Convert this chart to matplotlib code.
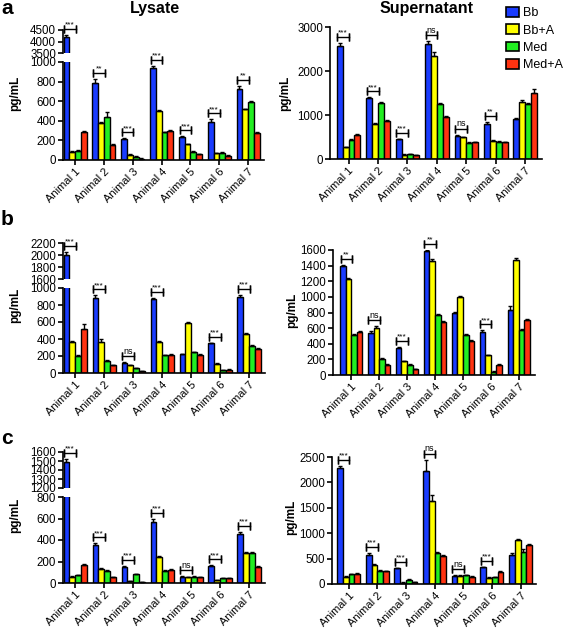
import numpy as np
import matplotlib
matplotlib.use('Agg')
import matplotlib.pyplot as plt
from matplotlib.transforms import offset_copy
from matplotlib.patches import Patch

plt.rcParams['font.family'] = ['Liberation Sans', 'DejaVu Sans']

animals = ['Animal 1', 'Animal 2', 'Animal 3', 'Animal 4', 'Animal 5', 'Animal 6', 'Animal 7']
groups = ['Bb', 'Bb+A', 'Med', 'Med+A']
colors = ['#1a3cff', '#ffff00', '#22ee22', '#ff3311']

# ---- panel a: Lysate ----
a_lys_bb   = [4180, 785, 215, 939, 232, 389, 723]
a_lys_bba  = [85, 375, 51, 502, 160, 68, 519]
a_lys_med  = [92, 437, 31, 283, 85, 72, 587]
a_lys_meda = [283, 154, 14, 300, 61, 41, 273]
a_lys_err_bb   = [100, 40, 5, 25, 8, 25, 30]
a_lys_err_bba  = [5, 15, 8, 10, 5, 5, 5]
a_lys_err_med  = [10, 50, 5, 5, 5, 5, 12]
a_lys_err_meda = [10, 5, 3, 10, 5, 5, 10]
a_lys_sig = ['***', '**', '***', '***', '***', '***', '**']

# ---- panel a: Supernatant ----
a_sup_bb   = [2570, 1379, 452, 2622, 527, 791, 904]
a_sup_bba  = [264, 799, 98, 2336, 490, 414, 1304]
a_sup_med  = [437, 1266, 105, 1243, 362, 384, 1251]
a_sup_meda = [550, 859, 83, 965, 377, 384, 1507]
a_sup_err_bb   = [60, 20, 10, 50, 20, 60, 20]
a_sup_err_bba  = [20, 30, 10, 100, 20, 20, 30]
a_sup_err_med  = [15, 20, 10, 20, 15, 15, 30]
a_sup_err_meda = [15, 20, 10, 20, 15, 10, 80]
a_sup_sig = ['***', '***', '***', 'ns', 'ns', '**', '']

# ---- panel b: Lysate ----
b_lys_bb   = [1994, 882, 118, 870, 224, 353, 890]
b_lys_bba  = [365, 365, 90, 365, 588, 110, 463]
b_lys_med  = [204, 145, 55, 208, 243, 31, 322]
b_lys_meda = [522, 90, 20, 212, 212, 39, 282]
b_lys_err_bb   = [60, 30, 8, 15, 5, 5, 30]
b_lys_err_bba  = [8, 30, 8, 8, 10, 8, 10]
b_lys_err_med  = [8, 8, 8, 8, 8, 4, 8]
b_lys_err_meda = [50, 8, 4, 8, 8, 8, 8]
b_lys_sig = ['***', '***', 'ns', '***', '', '***', '***']

# ---- panel b: Supernatant ----
b_sup_bb   = [1395, 533, 341, 1591, 798, 555, 832]
b_sup_bba  = [1224, 597, 175, 1459, 994, 252, 1472]
b_sup_med  = [512, 205, 132, 768, 508, 43, 576]
b_sup_meda = [550, 128, 73, 683, 439, 132, 704]
b_sup_err_bb   = [15, 30, 15, 15, 10, 15, 50]
b_sup_err_bba  = [20, 30, 10, 25, 15, 10, 30]
b_sup_err_med  = [15, 10, 10, 15, 15, 8, 15]
b_sup_err_meda = [15, 10, 8, 10, 10, 10, 10]
b_sup_sig = ['**', 'ns', '***', '**', '', '***', '']

# ---- panel c: Lysate ----
c_lys_bb   = [1491, 353, 149, 570, 59, 155, 459]
c_lys_bba  = [53, 130, 16, 239, 53, 28, 279]
c_lys_med  = [71, 115, 81, 109, 56, 43, 282]
c_lys_meda = [167, 56, 9, 124, 53, 43, 149]
c_lys_err_bb   = [30, 15, 10, 25, 5, 8, 15]
c_lys_err_bba  = [8, 8, 4, 8, 5, 4, 8]
c_lys_err_med  = [8, 8, 5, 8, 5, 4, 8]
c_lys_err_meda = [8, 4, 3, 8, 5, 4, 8]
c_lys_sig = ['***', '***', '***', '***', 'ns', '***', '***']

# ---- panel c: Supernatant ----
c_sup_bb   = [2290, 569, 314, 2225, 164, 327, 569]
c_sup_bba  = [144, 366, 26, 1636, 164, 124, 864]
c_sup_med  = [190, 262, 79, 602, 177, 131, 622]
c_sup_meda = [196, 249, 33, 556, 144, 236, 766]
c_sup_err_bb   = [30, 40, 10, 225, 10, 15, 50]
c_sup_err_bba  = [15, 20, 5, 125, 10, 10, 15]
c_sup_err_med  = [15, 15, 10, 25, 10, 10, 60]
c_sup_err_meda = [15, 15, 5, 20, 10, 15, 20]
c_sup_sig = ['***', '***', '***', 'ns', 'ns', '***', '']

W, H = 567, 628
fig = plt.figure(figsize=(W / 100, H / 100), dpi=100)

SPINE_LW = 1.2
BAR_W = 0.2
TICK_FS = 8.3
XTICK_FS = 8.0


def rect(left, right, top, bottom):
    return [left / W, 1 - bottom / H, (right - left) / W, (bottom - top) / H]


def draw_bars(ax, vals, errs):
    x = np.arange(len(animals))
    for k in range(4):
        e = np.asarray(errs[k], dtype=float)
        ax.bar(x + (k - 1.5) * BAR_W, vals[k], BAR_W, color=colors[k],
               edgecolor='black', linewidth=1.0,
               yerr=[np.zeros_like(e), e],
               error_kw=dict(ecolor='black', elinewidth=1.0, capsize=1.6, capthick=1.0))


def style(ax, xlim):
    ax.set_xlim(*xlim)
    for s in ['top', 'right']:
        ax.spines[s].set_visible(False)
    for s in ['left', 'bottom']:
        ax.spines[s].set_linewidth(SPINE_LW)
    ax.tick_params(axis='both', direction='out', length=3.5, width=SPINE_LW,
                   labelsize=TICK_FS, pad=1.5)
    ax.tick_params(axis='x', labelsize=XTICK_FS, pad=1.0)


def xlabels(ax):
    ax.set_xticks(np.arange(len(animals)))
    ax.set_xticklabels(animals, rotation=45, ha='right', rotation_mode='anchor')


def bracket(ax, i, top_val, label):
    if not label:
        return
    tr = offset_copy(ax.transData, fig=fig, x=0, y=6, units='dots')
    x0 = i - 2 * BAR_W + 0.02
    x1 = i + 0.02
    ax.plot([x0, x1], [top_val, top_val], color='black', lw=1.0, transform=tr, clip_on=False)
    for xx in (x0, x1):
        ax.plot([xx, xx], [top_val, top_val], color='black', lw=1.0, transform=tr,
                clip_on=False, marker='|', markersize=6, markeredgewidth=1.0)
    tr2 = offset_copy(ax.transData, fig=fig, x=0, y=6.5, units='dots')
    ax.text((x0 + x1) / 2, top_val, label, transform=tr2, ha='center', va='bottom',
            fontsize=6 if label != 'ns' else 6.5, clip_on=False)


def brackets(ax_for, vals, errs, sig):
    for i, s in enumerate(sig):
        top = max(vals[0][i] + errs[0][i], vals[1][i] + errs[1][i])
        bracket(ax_for(i), i, top, s)


def broken_panel(px, upper_px, lower_px, upper_lim, upper_ticks, lower_lim, lower_ticks,
                 vals, errs, sig, xlim):
    left, right = px
    ax_hi = fig.add_axes(rect(left, right, upper_px[0], upper_px[1]))
    ax_lo = fig.add_axes(rect(left, right, lower_px[0], lower_px[1]))
    for ax in (ax_hi, ax_lo):
        draw_bars(ax, vals, errs)
        style(ax, xlim)
    ax_hi.set_ylim(*upper_lim)
    ax_hi.set_yticks(upper_ticks)
    ax_hi.spines['bottom'].set_visible(False)
    ax_hi.tick_params(axis='x', bottom=False, labelbottom=False)
    ax_lo.set_ylim(*lower_lim)
    ax_lo.set_yticks(lower_ticks)
    xlabels(ax_lo)

    def pick(i):
        top = max(vals[0][i] + errs[0][i], vals[1][i] + errs[1][i])
        return ax_hi if top > lower_lim[1] else ax_lo
    brackets(pick, vals, errs, sig)
    return ax_hi, ax_lo


def simple_panel(px, ypx, ylim, yticks, vals, errs, sig, xlim):
    ax = fig.add_axes(rect(px[0], px[1], ypx[0], ypx[1]))
    draw_bars(ax, vals, errs)
    style(ax, xlim)
    ax.set_ylim(*ylim)
    ax.set_yticks(yticks)
    xlabels(ax)
    brackets(lambda i: ax, vals, errs, sig)
    return ax


LXL = (-0.42, 6.55)

# Row a
broken_panel((63, 264), (30, 53), (62, 160), (3500, 4500), [3500, 4000, 4500],
             (0, 1000), [0, 200, 400, 600, 800, 1000],
             [a_lys_bb, a_lys_bba, a_lys_med, a_lys_meda],
             [a_lys_err_bb, a_lys_err_bba, a_lys_err_med, a_lys_err_meda], a_lys_sig, LXL)
simple_panel((330, 542), (27, 159), (0, 3000), [0, 1000, 2000, 3000],
             [a_sup_bb, a_sup_bba, a_sup_med, a_sup_meda],
             [a_sup_err_bb, a_sup_err_bba, a_sup_err_med, a_sup_err_meda], a_sup_sig,
             (-0.63, 6.57))

# Row b
broken_panel((63, 265), (243, 279), (288, 373), (1600, 2200), [1600, 1800, 2000, 2200],
             (0, 1000), [0, 200, 400, 600, 800, 1000],
             [b_lys_bb, b_lys_bba, b_lys_med, b_lys_meda],
             [b_lys_err_bb, b_lys_err_bba, b_lys_err_med, b_lys_err_meda], b_lys_sig, LXL)
simple_panel((333, 535), (250, 375), (0, 1600), list(range(0, 1601, 200)),
             [b_sup_bb, b_sup_bba, b_sup_med, b_sup_meda],
             [b_sup_err_bb, b_sup_err_bba, b_sup_err_med, b_sup_err_meda], b_sup_sig,
             (-0.65, 6.58))

# Row c
broken_panel((63, 265), (452, 488), (497, 583), (1200, 1600), [1200, 1300, 1400, 1500, 1600],
             (0, 800), [0, 200, 400, 600, 800],
             [c_lys_bb, c_lys_bba, c_lys_med, c_lys_meda],
             [c_lys_err_bb, c_lys_err_bba, c_lys_err_med, c_lys_err_meda], c_lys_sig, LXL)
simple_panel((332, 536), (457, 584), (0, 2500), [0, 500, 1000, 1500, 2000, 2500],
             [c_sup_bb, c_sup_bba, c_sup_med, c_sup_meda],
             [c_sup_err_bb, c_sup_err_bba, c_sup_err_med, c_sup_err_meda], c_sup_sig,
             (-0.58, 6.54))

# Labels
def ftext(x, y, s, **kw):
    fig.text(x / W, 1 - y / H, s, **kw)

ftext(7, 9, 'a', fontsize=15, fontweight='bold', ha='center', va='center')
ftext(7, 220, 'b', fontsize=15, fontweight='bold', ha='center', va='center')
ftext(7, 438, 'c', fontsize=15, fontweight='bold', ha='center', va='center')
ftext(155, 9, 'Lysate', fontsize=11.5, fontweight='bold', ha='center', va='center')
ftext(427, 9, 'Supernatant', fontsize=11.5, fontweight='bold', ha='center', va='center')

for (x, y) in [(15, 93), (285, 93), (15, 305), (292, 310), (15, 515), (291, 517)]:
    ftext(x, y, 'pg/mL', fontsize=8.5, fontweight='bold', rotation=90, ha='center', va='center')

handles = [Patch(facecolor=c, edgecolor='black', linewidth=1.2) for c in colors]
fig.legend(handles, groups, loc='upper left', bbox_to_anchor=(506 / W, 1 - 7 / H),
           frameon=False, fontsize=9, handlelength=1.05, handleheight=0.8,
           handletextpad=0.3, labelspacing=0.42, borderaxespad=0, borderpad=0)

fig.savefig('out.png', dpi=100)
